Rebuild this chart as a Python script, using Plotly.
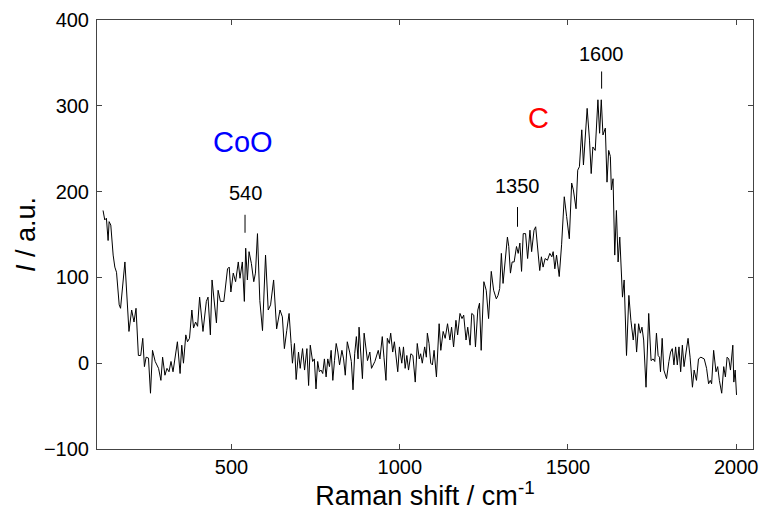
import plotly.graph_objects as go

raman_shift = [118, 123, 128, 133, 136, 141, 148, 153, 158, 166, 170, 183, 195, 203, 210, 216, 223, 230, 236, 241,
               246, 253, 259, 265, 273, 283, 290, 295, 302, 308, 314, 320, 326, 339, 347, 352, 357, 364, 369, 375,
               382, 387, 393, 399, 405, 415, 425, 430, 437, 442, 455, 460, 467, 477, 488, 493, 498, 505, 512, 520,
               525, 532, 538, 542, 547, 552, 559, 566, 571, 577, 584, 592, 601, 609, 616, 625, 634, 644, 651, 657,
               664, 671, 677, 681, 687, 692, 699, 704, 711, 717, 724, 729, 734, 741, 746, 751, 756, 761, 766, 771,
               776, 781, 786, 791, 796, 801, 806, 811, 816, 821, 828, 833, 838, 844, 851, 856, 861, 866, 871, 876,
               879, 884, 889, 894, 899, 904, 911, 916, 926, 936, 941, 948, 953, 959, 963, 969, 973, 979, 984, 989,
               994, 999, 1006, 1011, 1016, 1021, 1026, 1033, 1039, 1046, 1052, 1058, 1062, 1067, 1074, 1079, 1082, 1087, 1092, 1097,
               1102, 1109, 1117, 1122, 1129, 1135, 1142, 1149, 1154, 1160, 1167, 1172, 1179, 1185, 1190, 1197, 1202, 1209, 1214, 1220,
               1225, 1232, 1237, 1242, 1250, 1257, 1264, 1272, 1279, 1287, 1292, 1297, 1302, 1307, 1314, 1320, 1324, 1329, 1334, 1340,
               1347, 1352, 1357, 1362, 1367, 1374, 1380, 1387, 1392, 1399, 1404, 1409, 1416, 1421, 1426, 1432, 1439, 1446, 1452, 1456,
               1461, 1466, 1474, 1481, 1489, 1496, 1504, 1511, 1516, 1524, 1529, 1534, 1541, 1546, 1551, 1557, 1564, 1569, 1574, 1581,
               1589, 1594, 1599, 1604, 1611, 1616, 1621, 1626, 1629, 1634, 1639, 1644, 1649, 1654, 1662, 1667, 1674, 1681, 1687, 1694,
               1699, 1704, 1710, 1715, 1720, 1725, 1732, 1740, 1747, 1753, 1758, 1763, 1768, 1772, 1775, 1780, 1785, 1793, 1800, 1805,
               1810, 1815, 1820, 1825, 1830, 1835, 1840, 1845, 1851, 1857, 1863, 1870, 1875, 1882, 1888, 1895, 1905, 1912, 1918, 1923,
               1927, 1933, 1940, 1945, 1950, 1957, 1963, 1968, 1973, 1978, 1983, 1990, 1993, 1997, 2001]

intensity = [178, 167, 169, 143, 165, 161, 126, 112, 106, 68, 64, 118, 37, 62, 48, 64, 9, 9, 29, -4,
             7, 6, -35, 15, 2, -6, -20, 7, -14, -6, -10, 2, -10, 25, -12, 21, 0, 33, 25, 29,
             62, 41, 48, 43, 77, 37, 72, 77, 33, 97, 47, 85, 72, 72, 110, 112, 83, 105, 95, 118,
             99, 118, 72, 134, 97, 130, 116, 95, 105, 151, 73, 38, 126, 62, 68, 97, 40, 62, 54, 17,
             38, 58, 23, 0, 23, -19, 13, -6, 17, -8, 17, -26, 21, 2, 5, -30, 2, -10, -8, -12,
             5, -16, 5, -4, 15, -20, 3, 23, 13, -2, 15, 5, -14, 25, 13, 2, -31, 11, 31, 5,
             42, 15, -18, 35, 17, 3, 13, -6, 2, 15, 5, 31, 7, -20, 29, 23, 35, 13, 25, 3,
             -10, 19, 0, 19, -6, 9, -8, 11, 9, -22, 23, 5, 11, 0, 19, 7, 35, 23, 0, -2,
             15, -16, 46, 15, 37, 29, 46, 27, 42, 19, 50, 33, 58, 52, 56, 27, 42, 21, 58, 56,
             19, 62, 70, 15, 95, 85, 52, 107, 85, 75, 79, 87, 128, 93, 122, 147, 136, 105, 118, 118,
             136, 128, 140, 107, 151, 151, 122, 155, 130, 155, 159, 140, 108, 124, 112, 122, 120, 128, 124, 130,
             110, 126, 101, 138, 194, 171, 145, 210, 202, 180, 225, 229, 272, 231, 256, 297, 260, 221, 252, 248,
             307, 268, 307, 266, 274, 211, 248, 241, 202, 215, 126, 178, 118, 147, 77, 97, 9, 79, 50, 27,
             46, 13, 46, 35, 42, 27, -28, 58, 3, 5, 2, 35, 9, 7, -10, 29, -8, -18, 2, 13,
             17, -2, 19, -2, 19, -10, 21, -4, 13, 29, 7, -28, -8, -20, 5, 7, 5, -6, -24, -20,
             -24, 15, -10, -4, -20, -35, -4, -16, 7, 5, -8, 21, -22, -8, -37]

peak_positions = [540, 1350, 1600]
peak_labels = ["540", "1350", "1600"]
peak_mark_low = [152, 159, 320]
peak_mark_high = [173, 182, 340]
peak_label_y = [198, 206, 360]

phase_labels = ["CoO", "C"]
phase_x = [533, 1411]
phase_y = [258, 286]
phase_colors = ["#0000ff", "#ff0000"]

font_family = "Liberation Sans, Arial, sans-serif"

fig = go.Figure()
fig.add_trace(go.Scatter(x=raman_shift, y=intensity, mode="lines",
                         line=dict(color="black", width=1), showlegend=False))

for px, lo, hi in zip(peak_positions, peak_mark_low, peak_mark_high):
    fig.add_trace(go.Scatter(x=[px, px], y=[lo, hi], mode="lines",
                             line=dict(color="black", width=1), showlegend=False))

for px, lab, ly in zip(peak_positions, peak_labels, peak_label_y):
    fig.add_annotation(x=px, y=ly, text=lab, showarrow=False,
                       font=dict(size=20, color="black", family=font_family))

for lab, x, y, c in zip(phase_labels, phase_x, phase_y, phase_colors):
    fig.add_annotation(x=x, y=y, text=lab, showarrow=False,
                       font=dict(size=29, color=c, family=font_family))

axis_common = dict(showgrid=False, zeroline=False, showline=True, linecolor="#444444",
                   linewidth=1, mirror="ticks", ticks="inside", ticklen=5, automargin=False,
                   tickcolor="#444444", tickfont=dict(size=20, color="black", family=font_family))

fig.update_xaxes(range=[100, 2050], tickvals=[500, 1000, 1500, 2000],
                 title=dict(text="Raman shift / cm<sup>-1</sup>", font=dict(size=27, color="black", family=font_family),
                            standoff=6),
                 **axis_common)
fig.update_yaxes(range=[-100, 400], tickvals=[-100, 0, 100, 200, 300, 400],
                 ticklabelstandoff=3,
                 title=dict(text="<i>I</i> / a.u.", font=dict(size=27, color="black", family=font_family),
                            standoff=0),
                 **axis_common)

fig.update_layout(width=761, height=511, margin=dict(l=97, r=8, t=20, b=62),
                  plot_bgcolor="white", paper_bgcolor="white")

fig.write_html("out.html")
